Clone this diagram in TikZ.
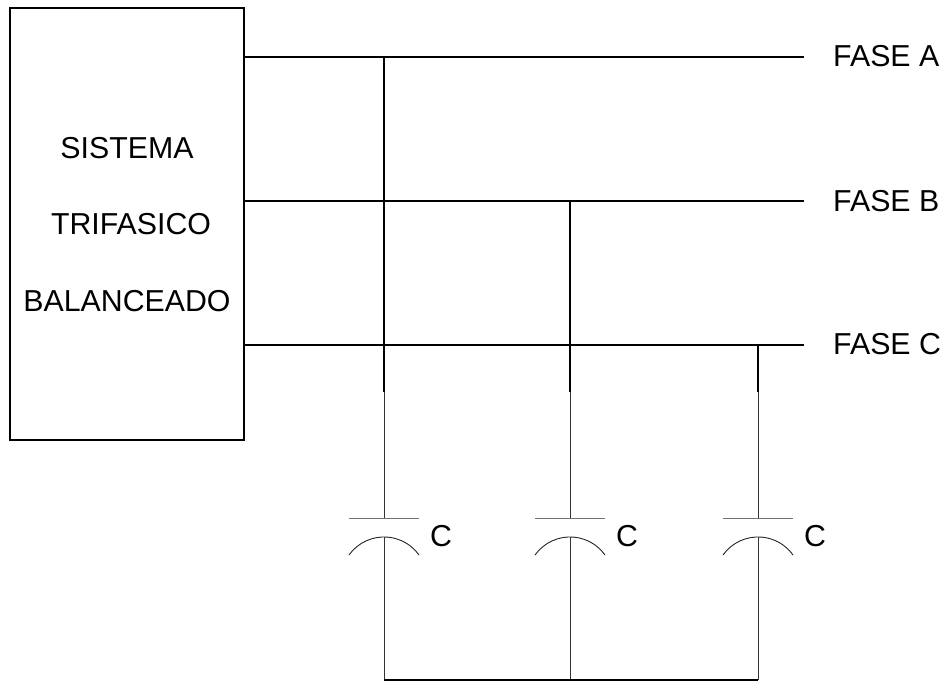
\documentclass[tikz,border=0pt]{standalone}
\usepackage{fontspec}
\setmainfont{Liberation Sans}
\begin{document}
\begin{tikzpicture}[x=1pt,y=1pt,
  lbl/.style={inner sep=0pt,font=\fontsize{30.3}{36}\selectfont},
  phase/.style={line width=2pt,black},
  tap/.style={line width=2pt,black},
  wire/.style={line width=0.9pt,black!80},
  plate/.style={line width=1pt,black!55},
  plateb/.style={line width=0.9pt,black!85},
  bus/.style={line width=1.8pt,black}]
\useasboundingbox (0,0) rectangle (948,681);
% box
\node[draw,line width=1.3pt,minimum width=234pt,minimum height=432pt,inner sep=0pt] (sys) at (127,457) {};
\node[lbl] (t1) at (127,533) {SISTEMA};
\node[lbl] (t2) at (131,457) {TRIFASICO};
\node[lbl] (t3) at (127,380) {BALANCEADO};
% phase lines
\coordinate (aS) at (244,624); \coordinate (aE) at (804,624);
\coordinate (bS) at (244,480); \coordinate (bE) at (804,480);
\coordinate (cS) at (244,336); \coordinate (cE) at (804,336);
\draw[phase] (aS) -- (aE);
\draw[phase] (bS) -- (bE);
\draw[phase] (cS) -- (cE);
\node[lbl,anchor=west] (la) at (833,625) {FASE A};
\node[lbl,anchor=west] (lb) at (833,480) {FASE B};
\node[lbl,anchor=west] (lc) at (833,337) {FASE C};
% columns
\foreach \n/\x/\y in {1/384/624,2/570/480,3/758/336}{
  \coordinate (j\n) at (\x,\y);
  \coordinate (k\n) at (\x,289);
  \coordinate (p\n) at (\x,163);
  \coordinate (q\n) at (\x,144);
  \coordinate (g\n) at (\x,1);
  \draw[tap] (j\n) -- (k\n);
  \draw[wire] (k\n) -- (p\n);
  \draw[plate] ([xshift=-35pt]p\n) -- ([xshift=35pt]p\n);
  \draw[plateb] (\x-35,126) arc[start angle=144.5,end angle=35.5,radius=43];
  \draw[wire] (q\n) -- (g\n);
  \node[lbl,anchor=west] (c\n) at (\x+46,145) {C};
}
\draw[bus] (g1) -- (g3);
\end{tikzpicture}
\end{document}
